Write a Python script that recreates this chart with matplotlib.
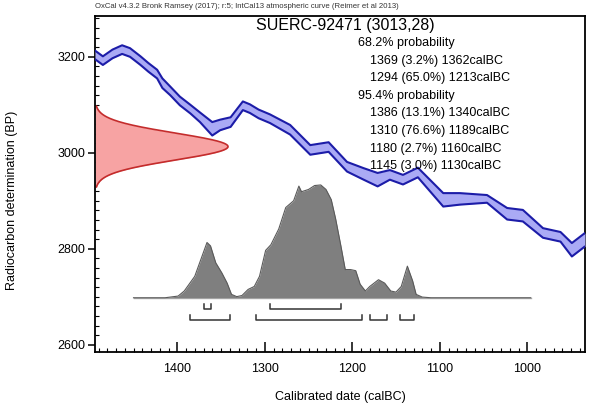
import numpy as np
import matplotlib
matplotlib.use("Agg")
import matplotlib.pyplot as plt
from matplotlib.ticker import MultipleLocator

plt.rcParams['font.family'] = ['Liberation Sans', 'DejaVu Sans']

# ---- data ----
sample_name = "SUERC-92471"
c14_mean = 3013
c14_sd = 28

curve_years = [1494, 1485, 1474, 1463, 1454, 1442, 1433, 1423, 1417, 1408, 1397, 1385,
               1374, 1360, 1351, 1339, 1325, 1317, 1307,
               1294, 1271, 1248, 1227, 1206, 1187, 1171, 1157, 1142, 1125, 1096, 1077,
               1046, 1023, 1005, 982, 962, 949, 934]
curve_bp = [3204, 3192, 3206, 3215, 3209, 3192, 3178, 3164, 3145, 3129, 3108, 3091,
            3074, 3050, 3058, 3064, 3098, 3092, 3081,
            3071, 3048, 3006, 3012, 2971, 2956, 2944, 2954, 2944, 2959, 2902, 2904,
            2904, 2873, 2869, 2833, 2825, 2798, 2819]
curve_err = [9, 9, 9, 9, 9, 9, 9, 9, 10, 9, 9, 9,
             10, 14, 11, 10, 9, 9, 9,
             9, 10, 10, 10, 10, 12, 14, 10, 10, 10, 14, 12,
             8, 12, 12, 10, 10, 14, 14]

prob_years = [1450, 1414, 1399, 1392, 1380, 1373, 1366, 1362, 1356, 1349, 1343, 1338,
              1332, 1326, 1319, 1312, 1306, 1299, 1293, 1284, 1276, 1267, 1261, 1258,
              1250, 1243, 1236, 1230, 1224, 1219, 1213, 1208, 1202, 1196, 1191, 1185,
              1180, 1170, 1163, 1156, 1150, 1144, 1137, 1131, 1127, 1120, 1110, 996]
prob_rel = [0.0, 0.0, 0.015, 0.06, 0.19, 0.34, 0.49, 0.46, 0.31, 0.22, 0.13, 0.03,
            0.01, 0.02, 0.074, 0.10, 0.19, 0.42, 0.47, 0.61, 0.80, 0.86, 0.99, 0.94,
            0.96, 0.995, 1.0, 0.96, 0.87, 0.70, 0.46, 0.25, 0.25, 0.24, 0.12, 0.06,
            0.10, 0.16, 0.13, 0.06, 0.05, 0.10, 0.28, 0.15, 0.03, 0.006, 0.0, 0.0]

range68 = [(1369, 1362), (1294, 1213)]
range95 = [(1386, 1340), (1310, 1189), (1180, 1160), (1145, 1130)]

text_lines = ["68.2% probability",
              "1369 (3.2%) 1362calBC",
              "1294 (65.0%) 1213calBC",
              "95.4% probability",
              "1386 (13.1%) 1340calBC",
              "1310 (76.6%) 1189calBC",
              "1180 (2.7%) 1160calBC",
              "1145 (3.0%) 1130calBC"]
text_indent = [False, True, True, False, True, True, True, True]

x_ticks = [1400, 1300, 1200, 1100, 1000]
y_ticks = [2600, 2800, 3000, 3200]

# ---- figure ----
fig = plt.figure(figsize=(6.0, 4.11), dpi=100)
ax = fig.add_axes([95/600, 59/411, 490/600, 336/411])
XL, XR = 1494, 934
YB, YT = 2585, 3285
ax.set_xlim(XL, XR)
ax.set_ylim(YB, YT)

# calibration curve band
cy = np.array(curve_years)
cb = np.array(curve_bp)
ce = np.array(curve_err)
ax.fill_between(cy, cb - ce, cb + ce, color='#aaaaf5', lw=0, zorder=3)
for edge in (cb + ce, cb - ce):
    ax.plot(cy, edge, color='#1c1ca8', lw=1.5, zorder=4,
            solid_joinstyle='round', solid_capstyle='round')

# radiocarbon measurement (normal) on y axis
yy = np.linspace(c14_mean - 3 * c14_sd, c14_mean + 3 * c14_sd, 300)
g = np.exp(-0.5 * ((yy - c14_mean) / c14_sd) ** 2)
width_years = 152
ax.fill_betweenx(yy, XL, XL - width_years * g, color='#f7a3a3', lw=0, zorder=2)
ax.plot(XL - width_years * g, yy, color='#c42c2c', lw=1.2, zorder=2)

# calibrated probability distribution
base = 2698
hscale = 235
py = np.array(prob_years)
pr = np.array(prob_rel)
ax.plot([py[0], py[-1]], [base, base], color='#b0b0b0', lw=1.0, zorder=1)
ax.fill_between(py, base, base + hscale * pr, color='#7f7f7f', lw=0, zorder=2)
ax.plot(py, base + hscale * pr, color='#5a5a5a', lw=0.8, zorder=2,
        solid_joinstyle='round')

# range brackets
def bracket(a, b, y, h):
    ax.plot([a, a, b, b], [y + h, y, y, y + h], color='#333333', lw=1.1, zorder=3)

for a, b in range68:
    bracket(a, b, 2675, 10)
for a, b in range95:
    bracket(a, b, 2652, 10)

# texts
fig.text(345 / 600, 1 - 30 / 411, f"{sample_name} ({c14_mean},{c14_sd})",
         ha='center', va='baseline', fontsize=11.5, zorder=6)
y0 = 43
for i, (s, ind) in enumerate(zip(text_lines, text_indent)):
    ypx = y0 + i * 17.6
    xpx = 370 if ind else 358
    fig.text(xpx / 600, 1 - ypx / 411, s, ha='left', va='center', fontsize=9, zorder=6)

fig.text(95 / 600, 1 - 6 / 411,
         "OxCal v4.3.2 Bronk Ramsey (2017); r:5; IntCal13 atmospheric curve (Reimer et al 2013)",
         ha='left', va='center', fontsize=5.6, color='#333333')

# axes styling
for sp in ax.spines.values():
    sp.set_linewidth(1.3)
ax.set_xticks(x_ticks)
ax.set_yticks(y_ticks)
ax.xaxis.set_minor_locator(MultipleLocator(10))
ax.yaxis.set_minor_locator(MultipleLocator(20))
ax.tick_params(axis='x', which='major', direction='in', length=7, width=1.1, labelsize=9, pad=8)
ax.tick_params(axis='x', which='minor', direction='in', length=3, width=0.8)
ax.tick_params(axis='y', which='major', direction='out', length=5, width=1.1, labelsize=9, pad=2)
ax.tick_params(axis='y', which='minor', direction='in', length=3, width=0.8)

fig.text(340 / 600, 1 - 397 / 411, "Calibrated date (calBC)", ha='center', va='center', fontsize=9)
fig.text(12 / 600, 1 - 200 / 411, "Radiocarbon determination (BP)", ha='center', va='center',
         fontsize=9, rotation=90)

fig.savefig("out.png", dpi=100)
